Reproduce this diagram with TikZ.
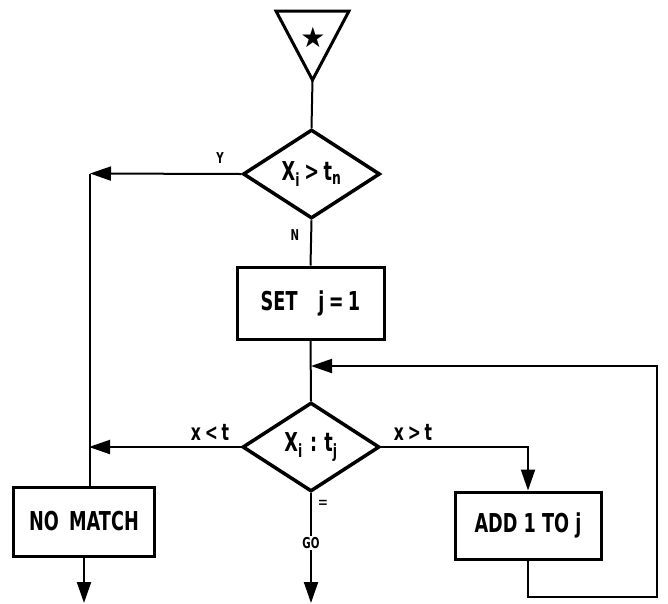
\documentclass[tikz,border=0pt]{standalone}
\usepackage{fontspec}
\setmainfont{DejaVu Sans}[FakeStretch=0.68]
\newfontfamily\symfont{DejaVu Sans}
\usetikzlibrary{shapes.geometric,arrows.meta}
\begin{document}
\begin{tikzpicture}[x=1pt,y=-1pt,
  conn/.style={line width=2pt},
  arr/.style={conn,-{Triangle[length=21pt,width=14pt]}},
  procbox/.style={draw,rectangle,line width=3pt,inner sep=0pt,font=\bfseries\fontsize{26}{27}\selectfont},
  dec/.style={draw,diamond,line width=3.5pt,minimum width=137pt,minimum height=89pt,inner sep=0pt,font=\bfseries\fontsize{26}{27}\selectfont},
  lab/.style={inner sep=1pt,font=\bfseries\fontsize{15}{16}\selectfont},
  cond/.style={inner sep=1pt,font=\bfseries\fontsize{23}{24}\selectfont}]
\useasboundingbox (0,0) rectangle (668,603);
% start triangle
\coordinate (tl) at (276,11);
\coordinate (tr) at (349,11);
\coordinate (tri) at (312.5,80);
\draw[line width=3pt,line join=miter] (tl) -- (tr) -- (tri) -- cycle;
\node (star) at (313,37) {\symfont\fontsize{28}{28}\selectfont ★};
% nodes
\node[dec] (d1) at (311.5,174) {X\textsubscript{i}\,>\,t\textsubscript{n}};
\node[procbox,minimum width=147pt,minimum height=72pt] (setj) at (310.5,303) {SET\hspace{0.8em}j\,=\,1};
\node[dec] (d2) at (311,447) {X\textsubscript{i}\;:\;t\textsubscript{j}};
\node[procbox,minimum width=141pt,minimum height=69pt] (nomatch) at (84,521.5) {NO\hspace{0.15em} MATCH};
\node[procbox,minimum width=146pt,minimum height=67pt] (add) at (528,525.5) {ADD 1 TO j};
\node[lab] (go) at (311,543) {GO};
% coordinates
\coordinate (c1) at (90,173.5);
\coordinate (c2) at (89,447);
\coordinate (j1) at (311,366);
\coordinate (r1) at (528,447);
\coordinate (b1) at (528,597);
\coordinate (b2) at (657,597);
\coordinate (b3) at (657,366);
\coordinate (out1) at (84,603);
\coordinate (out2) at (311,603);
% connectors
\draw[conn] (tri) -- (d1.north);
\draw[arr] (d1.west) -- (c1);
\draw[conn] (c1) -- (c1 |- nomatch.north);
\draw[conn] (d1.south) -- (setj.north);
\draw[conn] (setj.south) -- (d2.north);
\draw[arr] (d2.west) -- (c2);
\draw[arr] (d2.east) -- (r1) -- (add.north);
\draw[conn] (d2.south) -- (go.north);
\draw[arr] (go.south) -- (out2);
\draw[arr] (nomatch.south) -- (out1);
\draw[arr] (add.south) -- (b1) -- (b2) -- (b3) -- (j1);
% labels
\node[lab] (ly) at (220,158) {Y};
\node[lab] (ln) at (295,235) {N};
\node[cond] (lless) at (210,432) {x\,<\,t};
\node[cond] (lmore) at (413,432) {x\,>\,t};
\node[inner sep=1pt,font=\fontsize{18}{18}\selectfont] (leq) at (323,504) {=};
\end{tikzpicture}
\end{document}
